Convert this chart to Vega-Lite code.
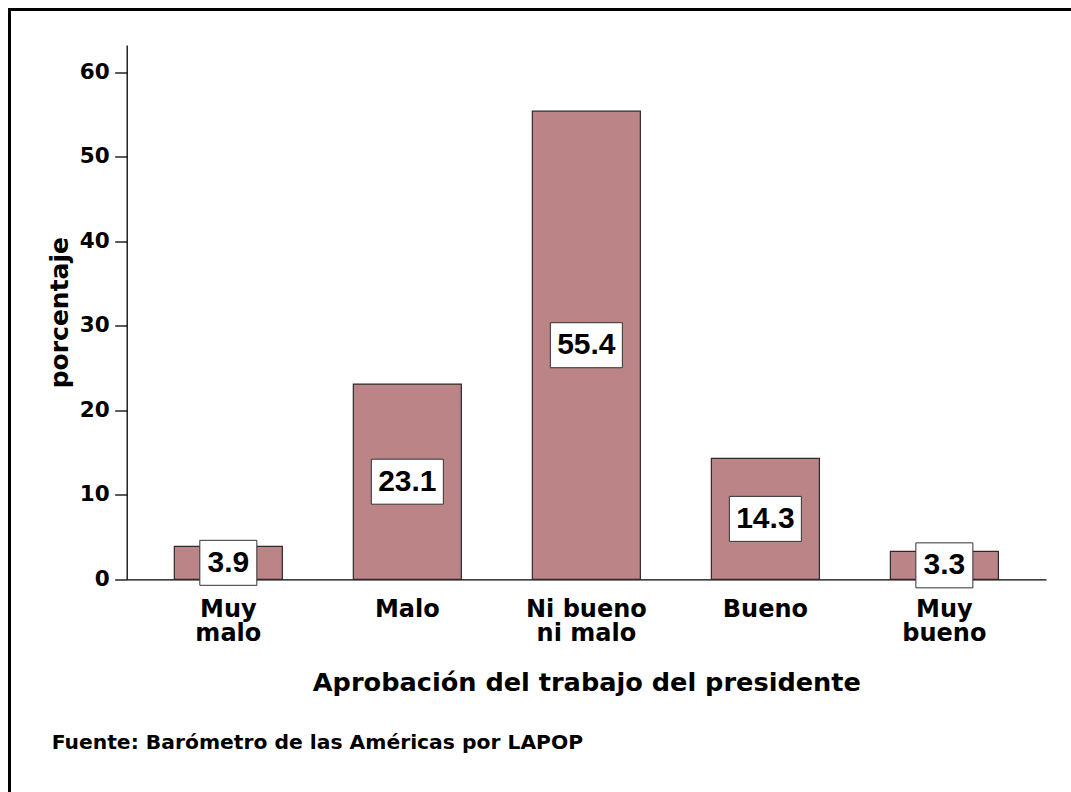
{
  "$schema": "https://vega.github.io/schema/vega-lite/v6.json",
  "width": 1064.5,
  "height": 785.5,
  "autosize": {"type": "none"},
  "padding": {"left": 9.5, "top": 9.5, "right": -3, "bottom": -3},
  "background": "white",
  "config": {
    "view": {"stroke": "black", "strokeWidth": 3, "fill": "white"},
    "font": "DejaVu Sans"
  },
  "title": {
    "text": "Fuente: Barómetro de las Américas por LAPOP",
    "orient": "top",
    "anchor": "start",
    "frame": "group",
    "offset": 0,
    "dx": 42.2,
    "dy": 759.5,
    "baseline": "alphabetic",
    "font": "DejaVu Sans",
    "fontSize": 20.3,
    "fontWeight": "bold",
    "color": "black"
  },
  "data": {
    "values": [
      {"cat": "Muy malo", "v": 3.9},
      {"cat": "Malo", "v": 23.1},
      {"cat": "Ni bueno ni malo", "v": 55.4},
      {"cat": "Bueno", "v": 14.3},
      {"cat": "Muy bueno", "v": 3.3}
    ]
  },
  "transform": [{"calculate": "datum.v / 2", "as": "mid"}],
  "encoding": {
    "x": {
      "field": "cat",
      "type": "nominal",
      "sort": null,
      "scale": {"range": [117.2, 1036.5], "paddingInner": 0.3966, "paddingOuter": 0.266},
      "axis": {
        "orient": "bottom",
        "offset": -215.7,
        "ticks": false,
        "domainColor": "black",
        "domainWidth": 1.3,
        "labelPadding": 37,
        "labelBaseline": "alphabetic",
        "labelFont": "DejaVu Sans",
        "labelFontSize": 24,
        "labelFontWeight": "bold",
        "labelColor": "black",
        "labelLineHeight": 24,
        "labelAngle": 0,
        "labelExpr": "datum.value == 'Muy malo' ? ['Muy', 'malo'] : datum.value == 'Ni bueno ni malo' ? ['Ni bueno', 'ni malo'] : datum.value == 'Muy bueno' ? ['Muy', 'bueno'] : datum.value",
        "title": "Aprobación del trabajo del presidente",
        "titleFont": "DejaVu Sans",
        "titleFontSize": 25.6,
        "titleFontWeight": "bold",
        "titleColor": "black",
        "titleY": 111.5,
        "titleBaseline": "alphabetic"
      }
    }
  },
  "layer": [
    {
      "mark": {"type": "bar", "fill": "#bb8486", "stroke": "#2b2b2b", "strokeWidth": 1.2},
      "encoding": {
        "y": {
          "field": "v",
          "type": "quantitative",
          "title": "porcentaje",
          "scale": {"domain": [0, 63.23], "range": [569.8, 35.5], "nice": false, "zero": false},
          "axis": {
            "orient": "left",
            "offset": -117.2,
            "values": [0, 10, 20, 30, 40, 50, 60],
            "grid": false,
            "domainColor": "black",
            "domainWidth": 1.3,
            "tickColor": "black",
            "tickWidth": 1.3,
            "tickSize": 12,
            "labelPadding": 5.5,
            "labelFont": "DejaVu Sans",
            "labelFontSize": 21.5,
            "labelFontWeight": "bold",
            "labelColor": "black",
            "labelFlush": false,
            "labelOverlap": false,
            "title": "porcentaje",
            "titleFont": "DejaVu Sans",
            "titleFontSize": 25,
            "titleFontWeight": "bold",
            "titleColor": "black",
            "titleX": -59.5,
            "titleAngle": -90,
            "titleAlign": "center",
            "titleBaseline": "alphabetic"
          }
        }
      }
    },
    {
      "transform": [{"filter": "datum.v < 10"}],
      "mark": {"type": "rect", "width": 57, "height": 45, "fill": "white", "stroke": "#333333", "strokeWidth": 1},
      "encoding": {"y": {"field": "mid", "type": "quantitative", "title": "porcentaje"}}
    },
    {
      "transform": [{"filter": "datum.v >= 10"}],
      "mark": {"type": "rect", "width": 72, "height": 45, "fill": "white", "stroke": "#333333", "strokeWidth": 1},
      "encoding": {"y": {"field": "mid", "type": "quantitative", "title": "porcentaje"}}
    },
    {
      "mark": {"type": "text", "font": "Liberation Sans", "fontSize": 30, "fontWeight": "bold", "baseline": "middle", "align": "center", "color": "black"},
      "encoding": {
        "y": {"field": "mid", "type": "quantitative", "title": "porcentaje"},
        "text": {"field": "v", "type": "quantitative", "format": ".1f"}
      }
    }
  ]
}
